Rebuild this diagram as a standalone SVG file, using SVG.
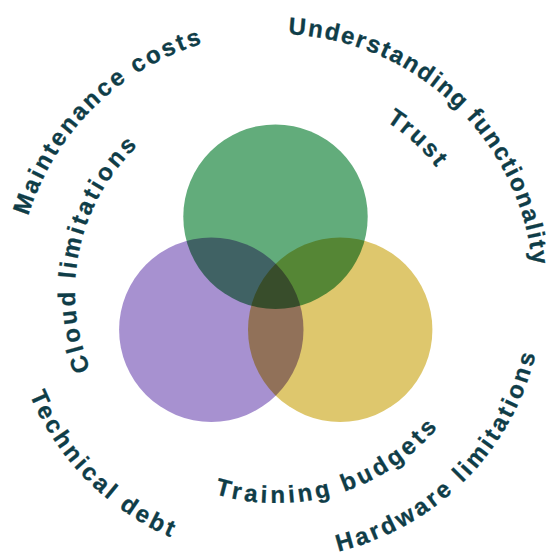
<svg xmlns="http://www.w3.org/2000/svg" xmlns:xlink="http://www.w3.org/1999/xlink" width="549" height="555" viewBox="0 0 549 555">
  <style>
    .lbl { font-family: "Liberation Sans", Arial, sans-serif; font-weight: bold; font-size: 24px; letter-spacing: 2.5px; fill: #0F3D48; stroke: #0F3D48; stroke-width: 0.3px; }
    .tight { letter-spacing: 1.8px; }
    .wide { letter-spacing: 3px; }
    .wider { letter-spacing: 3.5px; }
    .set { mix-blend-mode: multiply; }
  </style>
  <defs>
    <!-- arcs around the common centre (276,292); clockwise arcs carry the upper labels, counter-clockwise arcs the lower ones -->
    <path id="arc-maint" d="M40.3,399.4 A259,259 0 0 1 387.5,58.2"/>
    <path id="arc-under" d="M141.2,72.0 A258,258 0 0 1 502.7,415.1"/>
    <path id="arc-hard" d="M143.7,523.9 A267,267 0 0 0 506.5,157.3"/>
    <path id="arc-tech" d="M18.1,222.9 A267,267 0 0 0 345.1,549.9"/>
    <path id="arc-cloud" d="M168.6,461.9 A201,201 0 0 1 249.1,92.8"/>
    <path id="arc-trust" d="M285.9,89.2 A203,203 0 0 1 477.4,266.6"/>
    <path id="arc-train" d="M132.1,446.3 A211,211 0 0 0 481.6,339.5"/>
  </defs>

  <rect width="549" height="555" fill="#FFFFFF"/>

  <!-- three overlapping sets, multiplied where they overlap -->
  <g id="venn" style="isolation:isolate">
    <rect width="549" height="555" fill="#FFFFFF"/>
    <g id="set-green"><circle class="set" cx="275.5" cy="216.7" r="92.2" fill="#62AC7B"/></g>
    <g id="set-purple"><circle class="set" cx="211.3" cy="329.7" r="92.2" fill="#A791D0"/></g>
    <g id="set-yellow"><circle class="set" cx="340.2" cy="329.7" r="92.2" fill="#DEC76D"/></g>
  </g>

  <!-- outer ring labels -->
  <g id="label-maintenance"><text class="lbl"><textPath xlink:href="#arc-maint" href="#arc-maint" startOffset="50%" text-anchor="middle">Maintenance costs</textPath></text></g>
  <g id="label-understanding"><text class="lbl tight"><textPath xlink:href="#arc-under" href="#arc-under" startOffset="50%" text-anchor="middle">Understanding functionality</textPath></text></g>
  <g id="label-hardware"><text class="lbl wide"><textPath xlink:href="#arc-hard" href="#arc-hard" startOffset="50%" text-anchor="middle">Hardware limitations</textPath></text></g>
  <g id="label-technical"><text class="lbl wide"><textPath xlink:href="#arc-tech" href="#arc-tech" startOffset="50%" text-anchor="middle">Technical debt</textPath></text></g>

  <!-- inner ring labels -->
  <g id="label-cloud"><text class="lbl wide"><textPath xlink:href="#arc-cloud" href="#arc-cloud" startOffset="50%" text-anchor="middle">Cloud limitations</textPath></text></g>
  <g id="label-trust"><text class="lbl"><textPath xlink:href="#arc-trust" href="#arc-trust" startOffset="50%" text-anchor="middle">Trust</textPath></text></g>
  <g id="label-training"><text class="lbl wider"><textPath xlink:href="#arc-train" href="#arc-train" startOffset="50%" text-anchor="middle">Training budgets</textPath></text></g>
</svg>
